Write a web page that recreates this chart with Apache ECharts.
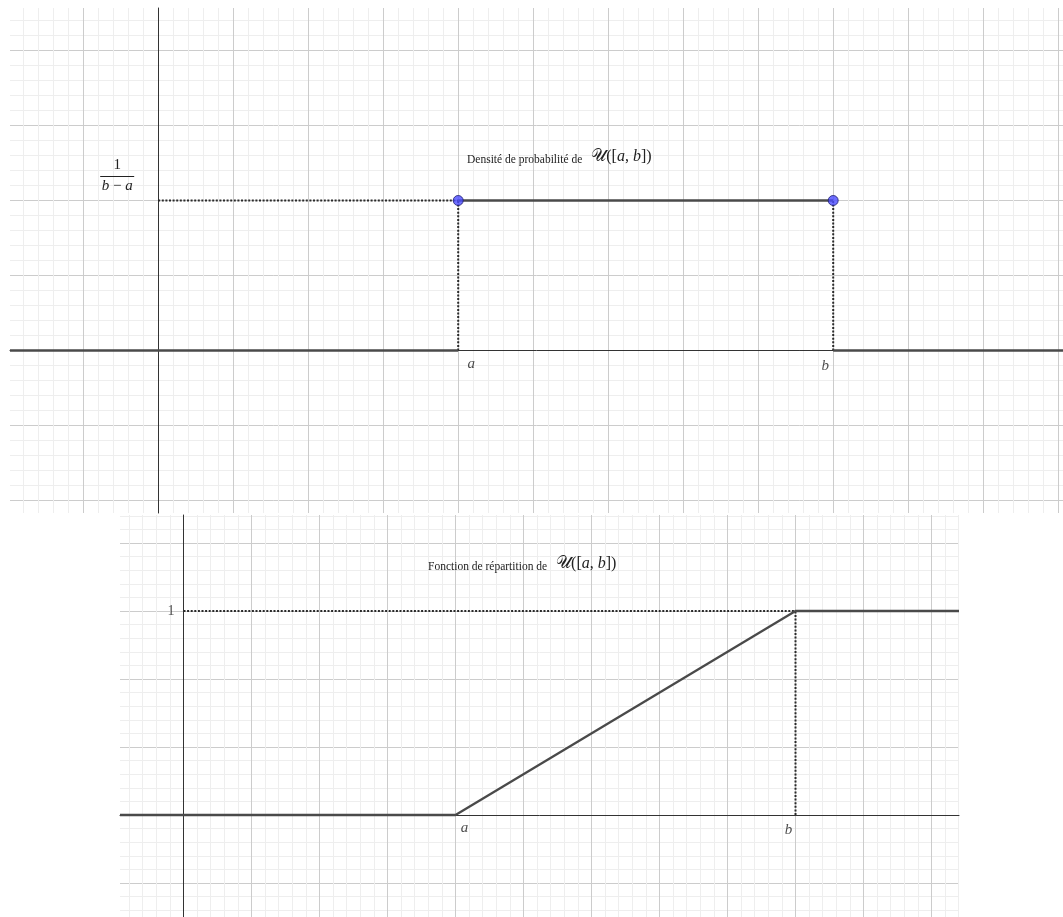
<!DOCTYPE html>
<html>
<head>
<meta charset="utf-8">
<script src="https://cdn.jsdelivr.net/npm/echarts@6/dist/echarts.min.js"></script>
<style>
  html, body { margin: 0; padding: 0; background: #ffffff; }
  #chart { width: 1063px; height: 917px; }
</style>
</head>
<body>
<div id="chart"></div>
<script>
// Bornes de la loi uniforme U([a, b])
const A = 4;
const B = 9;
const boundNames = ['a', 'b'];
// Densité : 1/(b-a) sur [a, b]
const densityHeight = 1 / (B - A);
// Fonction de répartition : 0 avant a, 1 après b
const cdfLevels = [0, 1];
const cdfTickLabels = ['1'];

// Fenêtres des deux repères (unités des axes)
const TOP_X = [-1.976, 12.064];
const TOP_Y = [-0.216667, 0.456667];
const BOT_X = [-0.93382, 11.40441];
const BOT_Y = [-0.5, 1.470588];

const SERIF = '"Liberation Serif", "DejaVu Serif", serif';
const MATH_SCRIPT = '"DejaVu Serif", "DejaVu Sans", "Liberation Serif", serif';
const CURVE = '#4a4a4a';
const DOTS = '#2a2a2a';

function gridAxis(gridIndex, range, step, extra) {
  return Object.assign({
    type: 'value',
    gridIndex: gridIndex,
    min: range[0],
    max: range[1],
    minInterval: step,
    maxInterval: step,
    splitNumber: 20,
    axisLine: { show: true, onZero: true, lineStyle: { color: '#333333', width: 1 } },
    axisTick: { show: false },
    axisLabel: { show: false },
    splitLine: { show: true, showMinLine: false, showMaxLine: false,
                 lineStyle: { color: '#cccccc', width: 1 } },
    minorTick: { show: false, splitNumber: 5 },
    minorSplitLine: { show: true, lineStyle: { color: '#eeeeee', width: 1 } }
  }, extra || {});
}

function seg(name, xi, yi, pts, color, width, type) {
  return {
    name: name, type: 'line', xAxisIndex: xi, yAxisIndex: yi,
    data: pts, showSymbol: false, symbol: 'none', silent: true,
    lineStyle: { color: color, width: width, type: type || 'solid' },
    z: type ? 3 : 4, animation: false
  };
}

function boundLabel(xi, yi, pts, offsets) {
  return {
    type: 'scatter', xAxisIndex: xi, yAxisIndex: yi, symbolSize: 0, silent: true,
    data: pts.map((p, i) => ({
      value: p, name: boundNames[i],
      label: { show: true, position: 'inside', offset: offsets[i],
               formatter: '{b}', fontFamily: SERIF, fontStyle: 'italic',
               fontSize: 15, color: '#222' }
    })),
    z: 6, animation: false
  };
}

const dotted = [2, 1.6];

const option = {
  backgroundColor: '#ffffff',
  animation: false,
  grid: [
    { left: 10, right: 0, top: 8, height: 505, containLabel: false },
    { left: 120, width: 839, top: 515, height: 402, containLabel: false }
  ],
  xAxis: [
    gridAxis(0, TOP_X, 1),
    gridAxis(1, BOT_X, 1)
  ],
  yAxis: [
    gridAxis(0, TOP_Y, 0.1),
    gridAxis(1, BOT_Y, 1 / 3)
  ],
  series: [
    // Densité
    seg('f gauche', 0, 0, [[TOP_X[0], 0], [A, 0]], CURVE, 2.5),
    seg('f palier', 0, 0, [[A, densityHeight], [B, densityHeight]], CURVE, 2.5),
    seg('f droite', 0, 0, [[B, 0], [TOP_X[1], 0]], CURVE, 2.5),
    seg('niveau', 0, 0, [[0, densityHeight], [A, densityHeight]], DOTS, 2, dotted),
    seg('x=a', 0, 0, [[A, 0], [A, densityHeight]], DOTS, 2, dotted),
    seg('x=b', 0, 0, [[B, 0], [B, densityHeight]], DOTS, 2, dotted),
    {
      type: 'scatter', xAxisIndex: 0, yAxisIndex: 0, silent: true,
      data: [[A, densityHeight], [B, densityHeight]],
      symbol: 'circle', symbolSize: 10,
      itemStyle: { color: '#4b4bff', borderColor: '#1c1c6e', borderWidth: 1 },
      z: 7, animation: false
    },
    boundLabel(0, 0, [[A, 0], [B, 0]], [[13, 14], [-8, 16]]),

    // Fonction de répartition
    seg('F', 1, 1, [[BOT_X[0], cdfLevels[0]], [A, cdfLevels[0]], [B, cdfLevels[1]], [BOT_X[1], cdfLevels[1]]], CURVE, 2.3),
    seg('y=1', 1, 1, [[0, cdfLevels[1]], [B, cdfLevels[1]]], DOTS, 2, dotted),
    seg('x=b', 1, 1, [[B, 0], [B, cdfLevels[1]]], DOTS, 2, dotted),
    boundLabel(1, 1, [[A, 0], [B, 0]], [[9, 13], [-7, 15]]),
    {
      type: 'scatter', xAxisIndex: 1, yAxisIndex: 1, symbolSize: 0, silent: true,
      data: [{ value: [0, cdfLevels[1]], name: cdfTickLabels[0] }],
      label: { show: true, position: 'left', distance: 9, formatter: '{b}',
               fontFamily: SERIF, fontSize: 14, color: '#222' },
      z: 6, animation: false
    }
  ]
};

const chart = echarts.init(document.getElementById('chart'));
chart.setOption(option);

// Titres et fraction 1/(b-a)
function lawTitle(prefix, x, y) {
  return {
    type: 'text', x: x, y: y, z: 20, silent: true,
    style: {
      text: '{t|' + prefix + '}{u|\u{1D4B0}}{m|([}{i|a}{m|, }{i|b}{m|])}',
      verticalAlign: 'middle',
      rich: {
        t: { fontFamily: SERIF, fontSize: 11.5, fill: '#222', padding: [5, 0, 0, 0] },
        u: { fontFamily: MATH_SCRIPT, fontSize: 17, fill: '#222', padding: [0, 0, 0, 9] },
        m: { fontFamily: SERIF, fontSize: 16, fill: '#222' },
        i: { fontFamily: SERIF, fontSize: 16, fontStyle: 'italic', fill: '#222' }
      }
    }
  };
}

const corner = chart.convertToPixel({ gridIndex: 0 }, [0, densityHeight]);
const fx = corner[0] - 41;
const fy = corner[1] - 24;

chart.setOption({
  graphic: [
    lawTitle('Densité de probabilité de', 467, 157),
    lawTitle('Fonction de répartition de', 428, 564),
    {
      type: 'group', z: 20, silent: true,
      children: [
        { type: 'text', x: fx, y: fy - 11,
          style: { text: '1', fontFamily: SERIF, fontSize: 15, fill: '#222',
                   align: 'center', verticalAlign: 'middle' } },
        { type: 'line', shape: { x1: fx - 17, y1: fy, x2: fx + 17, y2: fy },
          style: { stroke: '#222', lineWidth: 1 } },
        { type: 'text', x: fx, y: fy + 10,
          style: { text: '{i|b}{m| \u2212 }{i|a}', align: 'center', verticalAlign: 'middle',
                   rich: {
                     i: { fontFamily: SERIF, fontStyle: 'italic', fontSize: 15, fill: '#222' },
                     m: { fontFamily: SERIF, fontSize: 15, fill: '#222' }
                   } } }
      ]
    }
  ]
});
</script>
</body>
</html>
